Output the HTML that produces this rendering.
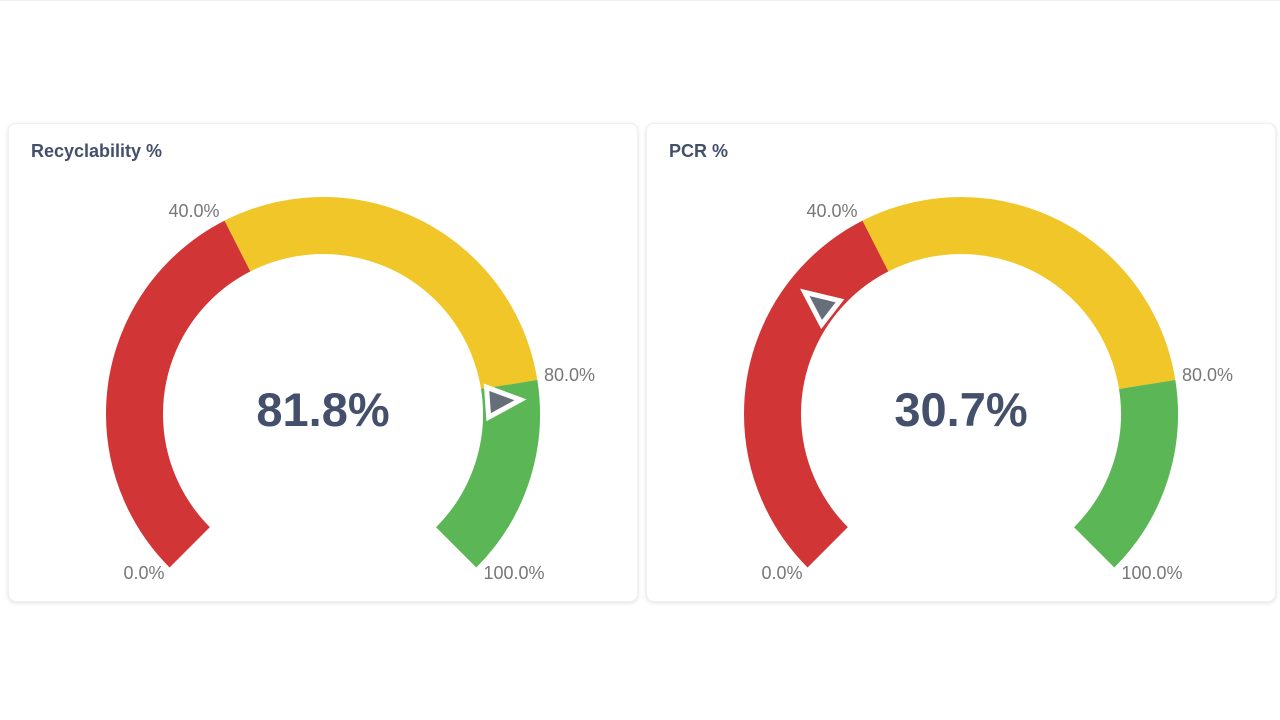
<!DOCTYPE html>
<html><head><meta charset="utf-8"><style>
body{margin:0;width:1280px;height:720px;background:#fff;font-family:"Liberation Sans",sans-serif;overflow:hidden;position:relative}
.card{position:absolute;top:123px;width:630px;height:479px;border-radius:8px;background:#fff;box-shadow:0 1px 4px rgba(0,0,0,0.12);border:1px solid #f0f0f0;box-sizing:border-box}
.t{position:absolute;left:22px;top:17px;font-weight:bold;font-size:18px;color:#434f6b}
svg{position:absolute;left:0;top:0}
</style></head><body>
<div style="position:absolute;left:0;top:0;width:1280px;height:1px;background:#eee"></div>
<div class="card" style="left:8px"><div class="t">Recyclability %</div></div>
<div class="card" style="left:646px"><div class="t">PCR %</div></div>
<svg width="1280" height="720" font-family="Liberation Sans, sans-serif">
<g transform="translate(323,414)">
<circle r="188.5" fill="none" stroke="#d13535" stroke-width="57" stroke-dasharray="355.3 2000" transform="rotate(135)"/>
<circle r="188.5" fill="none" stroke="#f1c628" stroke-width="57" stroke-dasharray="355.3 2000" transform="rotate(243)"/>
<circle r="188.5" fill="none" stroke="#5bb655" stroke-width="57" stroke-dasharray="177.7 2000" transform="rotate(351)"/>
<polygon points="165,-15 165,15 198,0" fill="#666e7a" stroke="#fff" stroke-width="5" stroke-linejoin="miter" transform="rotate(355.9)"/>
<text x="0" y="12" text-anchor="middle" font-size="47" font-weight="bold" fill="#434f6b">81.8%</text>
</g>
<g font-size="18" fill="#777">
<text x="194" y="217" text-anchor="middle">40.0%</text>
<text x="544" y="381">80.0%</text>
<text x="144" y="579" text-anchor="middle">0.0%</text>
<text x="514" y="579" text-anchor="middle">100.0%</text>
</g>
<g transform="translate(961,414)">
<circle r="188.5" fill="none" stroke="#d13535" stroke-width="57" stroke-dasharray="355.3 2000" transform="rotate(135)"/>
<circle r="188.5" fill="none" stroke="#f1c628" stroke-width="57" stroke-dasharray="355.3 2000" transform="rotate(243)"/>
<circle r="188.5" fill="none" stroke="#5bb655" stroke-width="57" stroke-dasharray="177.7 2000" transform="rotate(351)"/>
<polygon points="165,-15 165,15 198,0" fill="#666e7a" stroke="#fff" stroke-width="5" stroke-linejoin="miter" transform="rotate(217.9)"/>
<text x="0" y="12" text-anchor="middle" font-size="47" font-weight="bold" fill="#434f6b">30.7%</text>
</g>
<g font-size="18" fill="#777">
<text x="832" y="217" text-anchor="middle">40.0%</text>
<text x="1182" y="381">80.0%</text>
<text x="782" y="579" text-anchor="middle">0.0%</text>
<text x="1152" y="579" text-anchor="middle">100.0%</text>
</g>
</svg>
</body></html>
